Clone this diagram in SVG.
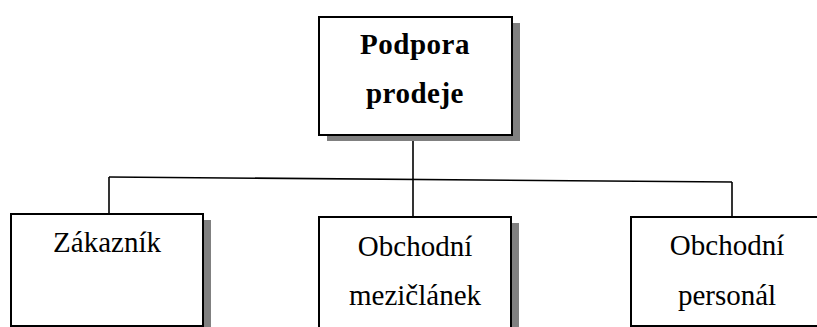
<svg xmlns="http://www.w3.org/2000/svg" width="817" height="327" viewBox="0 0 817 327">
  <style>
    .shadow { fill: #808080; }
    .box { fill: #ffffff; stroke: #000000; stroke-width: 2; }
    .link { fill: none; stroke: #000000; stroke-width: 1.6; }
    .label { font-family: "Liberation Serif", "Times New Roman", serif; font-size: 29px; fill: #000000; text-anchor: middle; }
    .bold { font-weight: bold; letter-spacing: 0.5px; }
  </style>
  <rect width="817" height="327" fill="#ffffff"/>

  <!-- connectors -->
  <g id="connectors">
    <line class="link" x1="413" y1="135" x2="413" y2="217"/>
    <line class="link" x1="109" y1="177" x2="732" y2="182"/>
    <line class="link" x1="109" y1="177" x2="109" y2="214"/>
    <line class="link" x1="732" y1="182" x2="732" y2="217"/>
  </g>

  <!-- root -->
  <g id="podpora-prodeje">
    <rect class="shadow" x="327" y="23" width="193" height="118"/>
    <rect class="box" x="319" y="17" width="193" height="118"/>
    <text class="label bold" x="415" y="54">Podpora</text>
    <text class="label bold" x="415" y="103">prodeje</text>
  </g>

  <g id="zakaznik">
    <rect class="shadow" x="19" y="220" width="192" height="120"/>
    <rect class="box" x="11" y="214" width="192" height="112"/>
    <text class="label" x="107" y="252">Zákazník</text>
  </g>

  <g id="obchodni-mezicl">
    <rect class="shadow" x="327" y="223" width="192" height="120"/>
    <rect class="box" x="319" y="217" width="192" height="120"/>
    <text class="label" x="415" y="256">Obchodní</text>
    <text class="label" x="415" y="305">mezičlánek</text>
  </g>

  <g id="obchodni-personal">
    <rect class="box" x="631" y="217" width="200" height="109"/>
    <text class="label" x="727" y="255">Obchodní</text>
    <text class="label" x="727" y="305">personál</text>
  </g>
</svg>
